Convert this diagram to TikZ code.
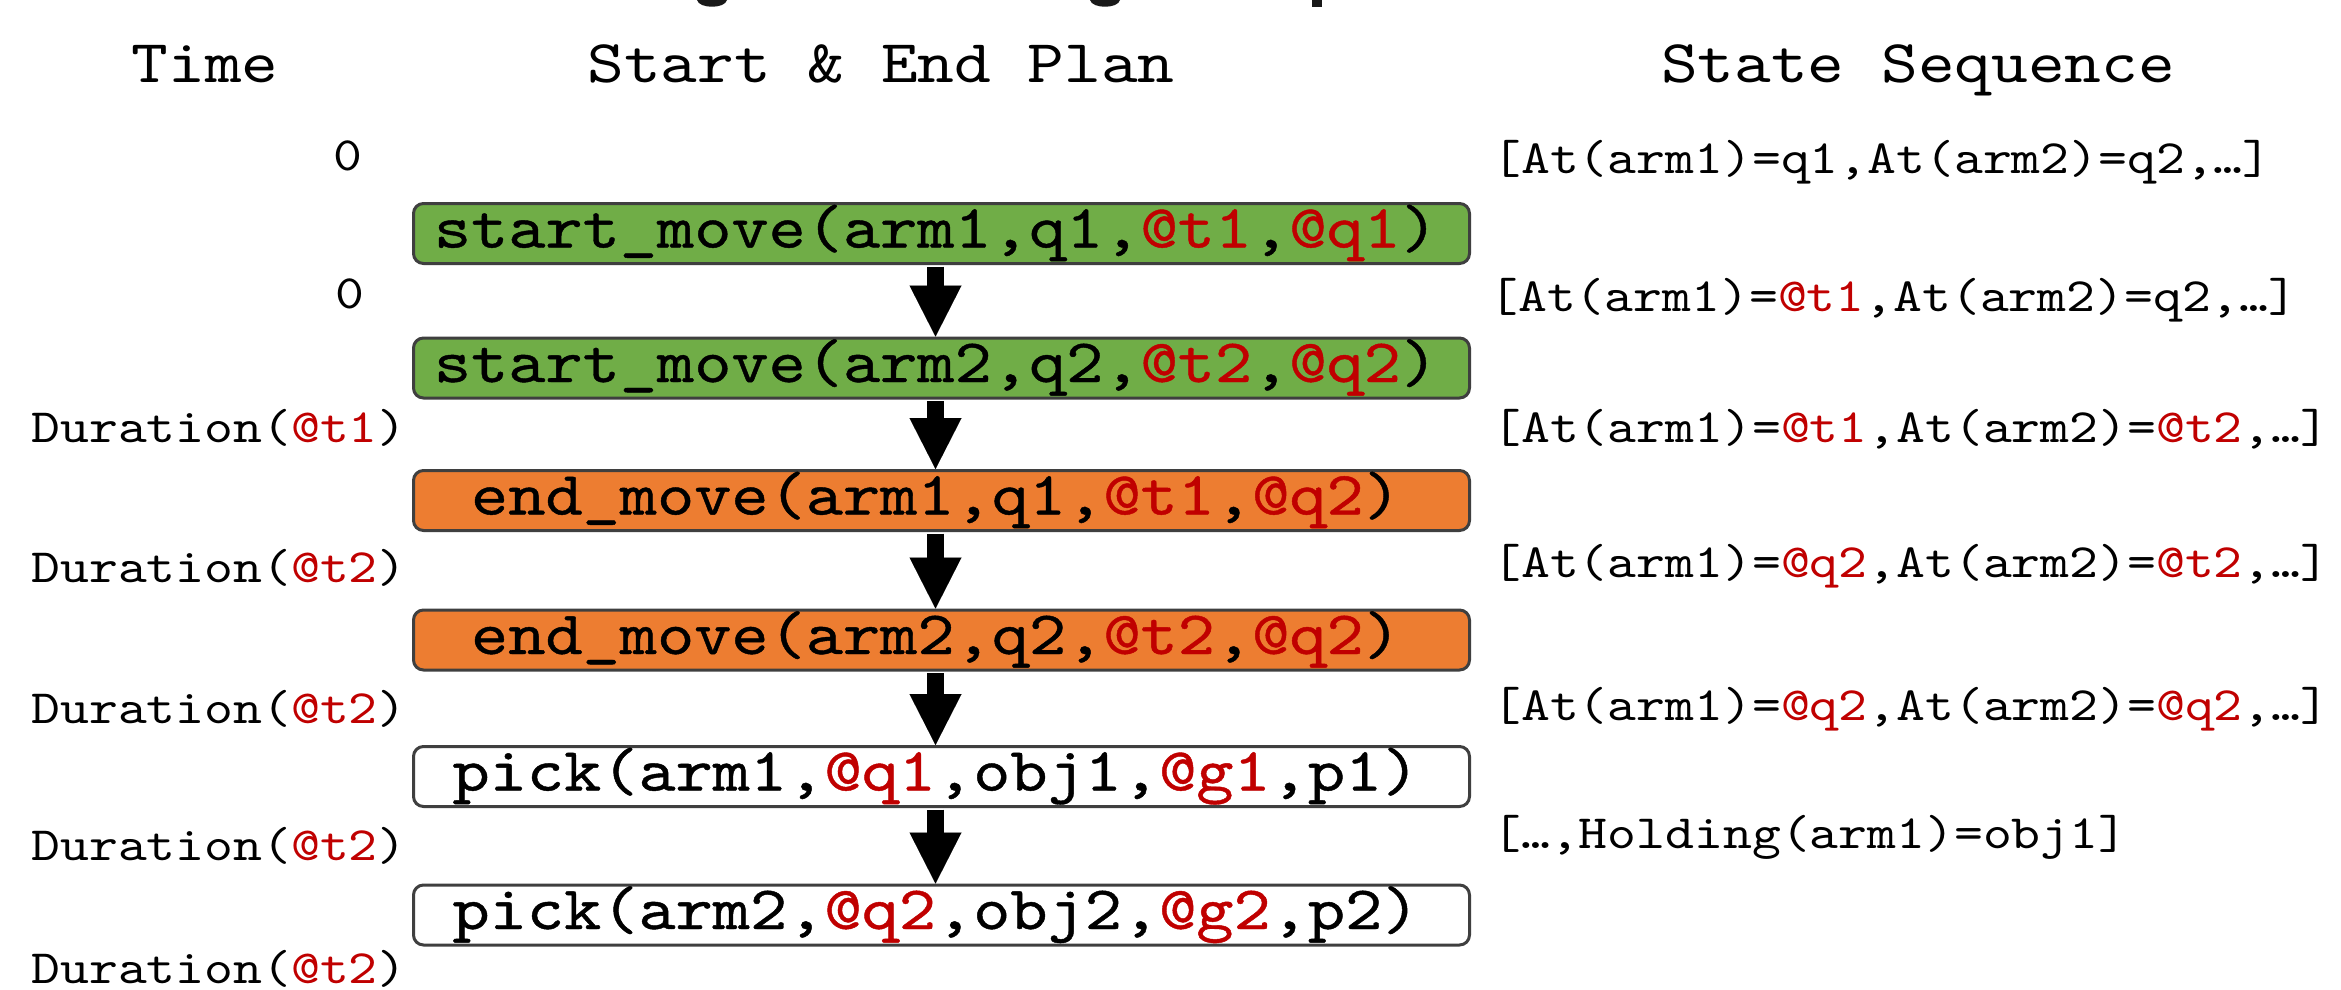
\documentclass[tikz,border=0pt]{standalone}
\usepackage{fontspec}
\usetikzlibrary{arrows.meta}
\newfontfamily\plmono{lmmono10-regular}[Extension=.otf,FakeStretch=1.15]
\newfontfamily\plmonob{lmmono10-regular}[Extension=.otf,FakeStretch=1.15,FakeBold=0.7]
\definecolor{plgreen}{HTML}{70AD47}
\definecolor{plorange}{HTML}{ED7D31}
\definecolor{plred}{HTML}{C00000}
\definecolor{plborder}{HTML}{3F3F3F}
\newcommand\redt[1]{\textcolor{plred}{#1}}
\begin{document}
\begin{tikzpicture}[x=0.5pt,y=-0.5pt,
  hdr/.style={anchor=base,inner sep=0pt,font=\plmono\fontsize{30.4pt}{34pt}\selectfont},
  small/.style={inner sep=0pt,font=\plmono\fontsize{23.9pt}{26pt}\selectfont},
  planbox/.style={draw=plborder,line width=1.5pt,rounded corners=5pt,
    minimum width=528pt,minimum height=30pt,inner sep=0pt,
    text height=21pt,text depth=7pt,
    font=\plmonob\fontsize{30.8pt}{34pt}\selectfont},
  greenbox/.style={planbox,fill=plgreen},
  orangebox/.style={planbox,fill=plorange},
  whitebox/.style={planbox,fill=white},
  bigarrow/.style={line width=8.5pt,black,shorten <=0.75pt,
    -{Triangle[width=26pt,length=25.5pt,line width=0.01pt]}}
]
\useasboundingbox[fill=white] (0,0) rectangle (2341,990);

% cut-off title fragments
\fill[black!90] (697,0) .. controls (699,9) and (725,9) .. (727,0) -- cycle;
\fill[black!90] (1090,0) .. controls (1092,9) and (1118,9) .. (1120,0) -- cycle;
\fill[black!90] (1312,0) rectangle (1322,7);

% headers
\node[hdr] (hTime) at (205,83) {Time};
\node[hdr] (hPlan) at (881,83) {Start \& End Plan};
\node[hdr] (hState) at (1918,83) {State Sequence};

% plan boxes
\node[greenbox] (b1) at (941.5,233.5) {start\_move(arm1,q1,\redt{@t1},\redt{@q1})\hspace*{5.5pt}};
\node[greenbox] (b2) at (941.5,368) {start\_move(arm2,q2,\redt{@t2},\redt{@q2})\hspace*{5.5pt}};
\node[orangebox] (b3) at (941.5,500.5) {end\_move(arm1,q1,\redt{@t1},\redt{@q2})\hspace*{5.5pt}};
\node[orangebox] (b4) at (941.5,640) {end\_move(arm2,q2,\redt{@t2},\redt{@q2})\hspace*{5.5pt}};
\node[whitebox] (b5) at (941.5,776.5) {pick(arm1,\redt{@q1},obj1,\redt{@g1},p1)\hspace*{5.5pt}};
\node[whitebox] (b6) at (941.5,915) {pick(arm2,\redt{@q2},obj2,\redt{@g2},p2)\hspace*{5.5pt}};

% arrows
\draw[bigarrow] ([xshift=-3pt]b1.south) -- ([xshift=-3pt]b2.north);
\draw[bigarrow] ([xshift=-3pt]b2.south) -- ([xshift=-3pt]b3.north);
\draw[bigarrow] ([xshift=-3pt]b3.south) -- ([xshift=-3pt]b4.north);
\draw[bigarrow] ([xshift=-3pt]b4.south) -- ([xshift=-3pt]b5.north);
\draw[bigarrow] ([xshift=-3pt]b5.south) -- ([xshift=-3pt]b6.north);

% time labels
\node[small,anchor=base] (t0) at (347.5,170) {0};
\node[small,anchor=base] (t1) at (350,308) {0};
\node[small,anchor=base east] (t2) at (407,442) {Duration(\redt{@t1})};
\node[small,anchor=base east] (t3) at (407,582) {Duration(\redt{@t2})};
\node[small,anchor=base east] (t4) at (407,723) {Duration(\redt{@t2})};
\node[small,anchor=base east] (t5) at (407,860) {Duration(\redt{@t2})};
\node[small,anchor=base east] (t6) at (407,983) {Duration(\redt{@t2})};

% state sequence
\node[small,anchor=base west] (s0) at (1492,174) {[At(arm1)=q1,At(arm2)=q2,\textellipsis]};
\node[small,anchor=base west] (s1) at (1489,311) {[At(arm1)=\redt{@t1},At(arm2)=q2,\textellipsis]};
\node[small,anchor=base west] (s2) at (1492,442) {[At(arm1)=\redt{@t1},At(arm2)=\redt{@t2},\textellipsis]};
\node[small,anchor=base west] (s3) at (1492,577) {[At(arm1)=\redt{@q2},At(arm2)=\redt{@t2},\textellipsis]};
\node[small,anchor=base west] (s4) at (1492,720) {[At(arm1)=\redt{@q2},At(arm2)=\redt{@q2},\textellipsis]};
\node[small,anchor=base west] (s5) at (1492,848) {[\textellipsis,Holding(arm1)=obj1]};
\end{tikzpicture}
\end{document}
